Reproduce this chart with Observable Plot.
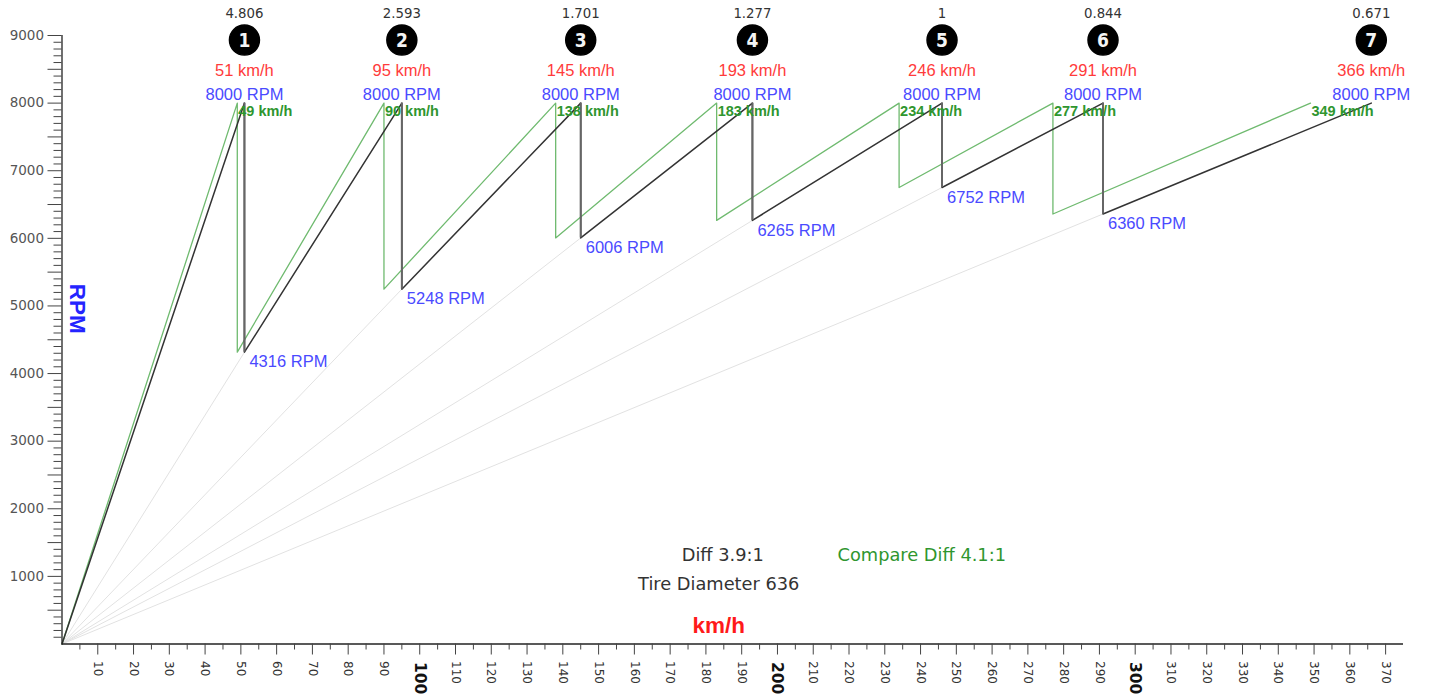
<!DOCTYPE html>
<html><head><meta charset="utf-8">
<script src="https://cdn.jsdelivr.net/npm/d3@7"></script>
<script src="https://cdn.jsdelivr.net/npm/@observablehq/plot@0.6"></script>
<style>body{margin:0;background:#fff}</style>
</head><body><div id="chart"></div>
<script>
// ---- data ----
const gears = ["1", "2", "3", "4", "5", "6", "7"];
const ratios = ["4.806", "2.593", "1.701", "1.277", "1", "0.844", "0.671"];
const topSpeeds = [51, 95, 145, 193, 246, 291, 366];          // km/h at 8000 RPM (diff 3.9)
const shiftRpms = [4316, 5248, 6006, 6265, 6752, 6360];      // RPM after shifting into gears 2..7
const compareSpeeds = [49, 90, 138, 183, 234, 277, 349];      // km/h at 8000 RPM (diff 4.1)
const maxRpm = 8000;
const xMajor = d3.range(10, 371, 10);
const xBold = [100, 200, 300];
const xMinor = d3.range(5, 371, 10);
const yMajor = d3.range(1000, 9001, 1000);
const yHalf = d3.range(500, 9000, 1000);
const yMinor = d3.range(100, 9000, 100).filter(v => v % 500 !== 0);

// ---- derived tables ----
function saw(speeds) {
  const pts = [{x: 0, y: 0}];
  speeds.forEach((s, i) => {
    pts.push({x: s, y: maxRpm});
    if (i < shiftRpms.length) pts.push({x: s, y: shiftRpms[i]});
  });
  return pts;
}
const mainLine = saw(topSpeeds);
const compLine = saw(compareSpeeds);
const rays = shiftRpms.map((r, i) => ({x: topSpeeds[i], y: r}));
const tops = gears.map((g, i) => ({gear: g, ratio: ratios[i], x: topSpeeds[i], cx: compareSpeeds[i]}));

const sans = "'Liberation Sans', Arial, sans-serif";
const dv = "'DejaVu Sans', Verdana, sans-serif";

const chart = Plot.plot({
  width: 1434,
  height: 698,
  marginLeft: 61.5,
  marginRight: 31,
  marginTop: 35,
  marginBottom: 54.5,
  style: {fontFamily: dv, background: "white", overflow: "visible"},
  x: {domain: [0, 375], label: null},
  y: {domain: [0, 9000], label: null},
  marks: [
    Plot.link(rays, {x1: 0, y1: 0, x2: "x", y2: "y", stroke: "#e2e2e2", strokeWidth: 1}),
    Plot.line(compLine, {x: "x", y: "y", stroke: "#6fba6f", strokeWidth: 1.3}),
    Plot.line(mainLine, {x: "x", y: "y", stroke: "#333", strokeWidth: 1.5}),
    Plot.ruleX(rays, {x: "x", y1: "y", y2: maxRpm, stroke: "#666", strokeWidth: 2}),
    // axes
    Plot.ruleY([0], {stroke: "#222", strokeWidth: 1.3}),
    Plot.ruleX([0], {stroke: "#222", strokeWidth: 1.3}),
    Plot.axisX(xMajor, {label: null, tickSize: 11, tickPadding: 6, tickRotate: 90, fontSize: 12, fill: "#333", stroke: "#444",
      tickFormat: d => xBold.includes(d) ? "" : String(d)}),
    Plot.axisX(xMinor, {label: null, tickSize: 6, tickFormat: () => "", stroke: "#444"}),
    Plot.axisX(xBold, {label: null, tickSize: 0, tickPadding: 18, tickRotate: 90, fontSize: 15.5, fontWeight: "bold", fill: "#111"}),
    Plot.axisY(yMajor, {label: null, tickSize: 14, tickPadding: 4, fontSize: 13.5, fill: "#555", stroke: "#444",
      tickFormat: d => String(d)}),
    Plot.axisY(yHalf, {label: null, tickSize: 14, tickFormat: () => "", stroke: "#444"}),
    Plot.axisY(yMinor, {label: null, tickSize: 8, tickFormat: () => "", stroke: "#444"}),
    // gear headers
    Plot.text(tops, {x: "x", y: maxRpm, text: "ratio", dy: -89, fontSize: 13.3, fill: "#333", fontFamily: dv}),
    Plot.dot(tops, {x: "x", y: maxRpm, dy: -63, r: 15, fill: "#000", stroke: "#000"}),
    Plot.text(tops, {x: "x", y: maxRpm, text: "gear", dy: -62, fontSize: 19, fontWeight: "bold", fill: "#f4f4f4",
      fontFamily: "'Liberation Sans Narrow', 'DejaVu Sans Condensed', sans-serif"}),
    Plot.text(tops, {x: "x", y: maxRpm, text: d => `${d.x} km/h`, dy: -32, fontSize: 16.5, fill: "#ff3b3b", fontFamily: sans}),
    Plot.text(tops, {x: "x", y: maxRpm, text: () => `${maxRpm} RPM`, dy: -8, fontSize: 16.5, fill: "#4a4aff", fontFamily: sans}),
    Plot.text(tops, {x: "cx", y: maxRpm, text: d => `${d.cx} km/h`, dy: 8, dx: 1, textAnchor: "start", fontSize: 14.5,
      fontWeight: "bold", fill: "#2f962f", fontFamily: sans}),
    Plot.text(rays, {x: "x", y: "y", text: d => `${d.y} RPM`, dx: 5, dy: 10, textAnchor: "start", fontSize: 16.5,
      fill: "#4a4aff", fontFamily: sans}),
    // titles & notes
    Plot.text(["RPM"], {x: 4.3, y: 4960, rotate: 90, fontSize: 22.5, fontWeight: "bold",
      fill: "#2424ff", fontFamily: sans}),
    Plot.text(["km/h"], {frameAnchor: "bottom", dx: -14, dy: -11, fontSize: 22.5, fontWeight: "bold", fill: "#ff1a1a",
      fontFamily: sans}),
    Plot.text(["Diff 3.9:1"], {frameAnchor: "bottom", dx: -10, dy: -83, fontSize: 17.8, fill: "#333", fontFamily: dv}),
    Plot.text(["Tire Diameter 636"], {frameAnchor: "bottom", dx: -14, dy: -54, fontSize: 17.8, fill: "#333", fontFamily: dv}),
    Plot.text(["Compare Diff 4.1:1"], {frameAnchor: "bottom", dx: 189, dy: -83, fontSize: 17.8, fill: "#2f962f", fontFamily: dv})
  ]
});
document.getElementById("chart").appendChild(chart);
</script>
</body></html>
